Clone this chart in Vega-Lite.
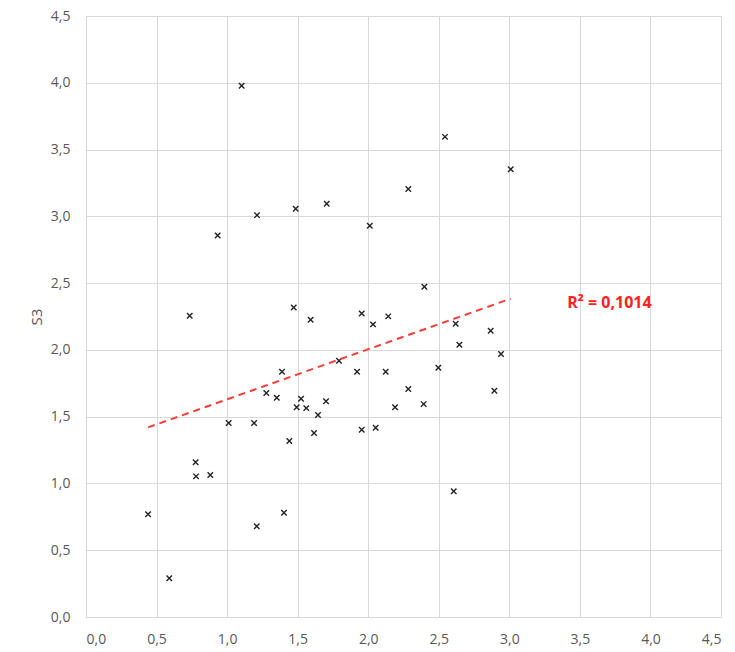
{
  "$schema": "https://vega.github.io/schema/vega-lite/v6.json",
  "width": 635,
  "height": 601,
  "autosize": "none",
  "padding": {"left": 86, "top": 16, "right": 14, "bottom": 35},
  "background": "white",
  "config": {
    "view": {"stroke": null},
    "font": "Open Sans",
    "axis": {
      "gridColor": "#d9d9d9",
      "gridWidth": 1,
      "domainColor": "#d9d9d9",
      "ticks": false,
      "labelColor": "#595959",
      "labelFontSize": 14,
      "labelFont": "Open Sans",
      "titleFont": "Open Sans",
      "titleColor": "#595959",
      "titleFontWeight": "normal",
      "titleFontSize": 15
    }
  },
  "data": {
    "values": [
      {"x": 0.44, "y": 0.77}, {"x": 0.59, "y": 0.29}, {"x": 0.735, "y": 2.255}, {"x": 0.777, "y": 1.158},
      {"x": 0.78, "y": 1.053}, {"x": 0.881, "y": 1.063}, {"x": 0.933, "y": 2.857}, {"x": 1.011, "y": 1.452},
      {"x": 1.103, "y": 3.977}, {"x": 1.191, "y": 1.452}, {"x": 1.212, "y": 3.009}, {"x": 1.21, "y": 0.679},
      {"x": 1.278, "y": 1.677}, {"x": 1.352, "y": 1.641}, {"x": 1.389, "y": 1.836}, {"x": 1.403, "y": 0.781},
      {"x": 1.441, "y": 1.317}, {"x": 1.472, "y": 2.318}, {"x": 1.486, "y": 3.056}, {"x": 1.493, "y": 1.57},
      {"x": 1.524, "y": 1.634}, {"x": 1.561, "y": 1.564}, {"x": 1.592, "y": 2.225}, {"x": 1.616, "y": 1.377},
      {"x": 1.644, "y": 1.512}, {"x": 1.701, "y": 1.615}, {"x": 1.706, "y": 3.094}, {"x": 1.793, "y": 1.918},
      {"x": 1.921, "y": 1.836}, {"x": 1.954, "y": 2.273}, {"x": 1.954, "y": 1.402}, {"x": 2.011, "y": 2.929},
      {"x": 2.034, "y": 2.191}, {"x": 2.053, "y": 1.417}, {"x": 2.124, "y": 1.836}, {"x": 2.142, "y": 2.251},
      {"x": 2.19, "y": 1.57}, {"x": 2.284, "y": 3.204}, {"x": 2.284, "y": 1.707}, {"x": 2.393, "y": 1.594},
      {"x": 2.398, "y": 2.472}, {"x": 2.497, "y": 1.866}, {"x": 2.544, "y": 3.595}, {"x": 2.62, "y": 2.195},
      {"x": 2.606, "y": 0.941}, {"x": 2.646, "y": 2.038}, {"x": 2.868, "y": 2.143}, {"x": 2.894, "y": 1.694},
      {"x": 2.941, "y": 1.969}, {"x": 3.01, "y": 3.353}
    ]
  },
  "layer": [
    {
      "mark": {"type": "point", "shape": "M-1,-1L1,1M1,-1L-1,1", "filled": false, "stroke": "#222222", "strokeWidth": 1.4, "size": 30, "opacity": 1},
      "encoding": {
        "x": {"field": "x", "type": "quantitative", "scale": {"domain": [0, 4.5], "nice": false, "zero": false},
              "axis": {"title": null, "values": [0, 0.5, 1, 1.5, 2, 2.5, 3, 3.5, 4, 4.5], "labelPadding": 15,
                       "labelExpr": "replace(format(datum.value, '.1f'), '.', ',')"}},
        "y": {"field": "y", "type": "quantitative", "scale": {"domain": [0, 4.5], "nice": false, "zero": false},
              "axis": {"title": "S3", "values": [0, 0.5, 1, 1.5, 2, 2.5, 3, 3.5, 4, 4.5], "labelPadding": 16, "titlePadding": 6,
                       "labelExpr": "replace(format(datum.value, '.1f'), '.', ',')"}}
      }
    },
    {
      "transform": [{"regression": "y", "on": "x"}],
      "mark": {"type": "line", "color": "#ff3b3b", "strokeWidth": 2, "strokeDash": [7, 5]},
      "encoding": {
        "x": {"field": "x", "type": "quantitative"},
        "y": {"field": "y", "type": "quantitative"}
      }
    },
    {
      "data": {"values": [{"x": 3.41, "y": 2.35, "label": "R² = 0,1014"}]},
      "mark": {"type": "text", "align": "left", "baseline": "middle", "color": "#ff2020", "fontWeight": "bold", "fontSize": 16, "font": "Open Sans"},
      "encoding": {
        "x": {"field": "x", "type": "quantitative"},
        "y": {"field": "y", "type": "quantitative"},
        "text": {"field": "label"}
      }
    }
  ]
}
